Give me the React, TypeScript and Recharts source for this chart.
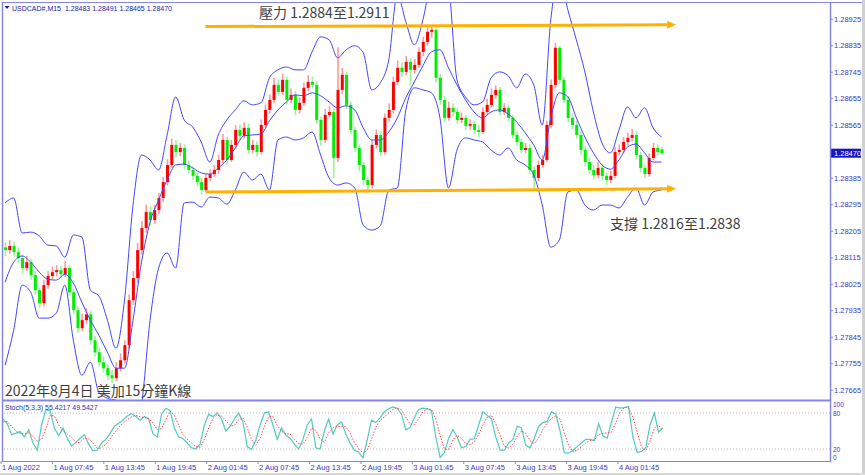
import React from 'react'
import { ComposedChart, Bar, Line, XAxis, YAxis, ReferenceLine, ReferenceDot } from 'recharts'

// USDCAD M15, 1 Aug 2022 -> 4 Aug 2022 (one candle per slot)
const open = [
  1.28150, 1.28141, 1.28155, 1.28134, 1.28114, 1.28080, 1.28100, 1.28056, 1.28005, 1.27961,
  1.28022, 1.28053, 1.28066, 1.28073, 1.28059, 1.28080, 1.27998, 1.27937, 1.27876, 1.27903,
  1.27923, 1.27835, 1.27794, 1.27760, 1.27740, 1.27716, 1.27706, 1.27740, 1.27767, 1.27818,
  1.27971, 1.28046, 1.28141, 1.28216, 1.28270, 1.28243, 1.28277, 1.28318, 1.28372, 1.28430,
  1.28498, 1.28474, 1.28488, 1.28430, 1.28413, 1.28393, 1.28372, 1.28345, 1.28386, 1.28399,
  1.28413, 1.28447, 1.28515, 1.28447, 1.28498, 1.28549, 1.28529, 1.28556, 1.28481, 1.28498,
  1.28474, 1.28566, 1.28617, 1.28651, 1.28702, 1.28678, 1.28719, 1.28651, 1.28668, 1.28617,
  1.28641, 1.28692, 1.28712, 1.28702, 1.28583, 1.28515, 1.28600, 1.28610, 1.28454, 1.28685,
  1.28736, 1.28634, 1.28549, 1.28488, 1.28430, 1.28379, 1.28362, 1.28498, 1.28532, 1.28474,
  1.28590, 1.28617, 1.28712, 1.28760, 1.28746, 1.28780, 1.28753, 1.28770, 1.28814, 1.28848,
  1.28882, 1.28889, 1.28726, 1.28651, 1.28590, 1.28624, 1.28610, 1.28583, 1.28590, 1.28563,
  1.28569, 1.28549, 1.28542, 1.28610, 1.28634, 1.28668, 1.28685, 1.28610, 1.28624, 1.28590,
  1.28532, 1.28508, 1.28481, 1.28488, 1.28413, 1.28386, 1.28430, 1.28447, 1.28566, 1.28702,
  1.28828, 1.28719, 1.28651, 1.28590, 1.28566, 1.28532, 1.28481, 1.28440, 1.28413, 1.28396,
  1.28420, 1.28393, 1.28379, 1.28393, 1.28474, 1.28481, 1.28508, 1.28522, 1.28532, 1.28464,
  1.28420, 1.28399, 1.28454, 1.28488, 1.28483,
]
const high = [
  1.28168, 1.28175, 1.28170, 1.28150, 1.28125, 1.28122, 1.28112, 1.28070, 1.28015, 1.28040,
  1.28070, 1.28085, 1.28090, 1.28088, 1.28105, 1.28092, 1.28010, 1.27950, 1.27925, 1.27945,
  1.27935, 1.27850, 1.27810, 1.27780, 1.27755, 1.27735, 1.27760, 1.27790, 1.27835, 1.27990,
  1.28070, 1.28165, 1.28240, 1.28295, 1.28290, 1.28295, 1.28335, 1.28390, 1.28450, 1.28520,
  1.28515, 1.28505, 1.28500, 1.28445, 1.28425, 1.28405, 1.28385, 1.28400, 1.28415, 1.28430,
  1.28465, 1.28535, 1.28525, 1.28515, 1.28565, 1.28568, 1.28575, 1.28570, 1.28515, 1.28510,
  1.28585, 1.28635, 1.28670, 1.28725, 1.28720, 1.28740, 1.28730, 1.28690, 1.28680, 1.28660,
  1.28710, 1.28735, 1.28730, 1.28715, 1.28595, 1.28620, 1.28630, 1.28620, 1.28830, 1.28760,
  1.28748, 1.28645, 1.28560, 1.28500, 1.28440, 1.28390, 1.28515, 1.28550, 1.28545, 1.28605,
  1.28640, 1.28730, 1.28785, 1.28778, 1.28800, 1.28792, 1.28790, 1.28830, 1.28865, 1.28900,
  1.28905, 1.28895, 1.28740, 1.28665, 1.28645, 1.28640, 1.28625, 1.28608, 1.28600, 1.28585,
  1.28580, 1.28565, 1.28625, 1.28655, 1.28690, 1.28700, 1.28695, 1.28640, 1.28635, 1.28600,
  1.28545, 1.28520, 1.28505, 1.28500, 1.28425, 1.28445, 1.28465, 1.28580, 1.28720, 1.28845,
  1.28835, 1.28730, 1.28665, 1.28605, 1.28580, 1.28545, 1.28495, 1.28455, 1.28430, 1.28440,
  1.28435, 1.28405, 1.28410, 1.28490, 1.28500, 1.28525, 1.28540, 1.28552, 1.28545, 1.28475,
  1.28432, 1.28470, 1.28505, 1.28500, 1.28491,
]
const low = [
  1.28120, 1.28128, 1.28118, 1.28098, 1.28062, 1.28070, 1.28040, 1.27990, 1.27945, 1.27950,
  1.28010, 1.28040, 1.28052, 1.28045, 1.28050, 1.27985, 1.27925, 1.27860, 1.27865, 1.27890,
  1.27820, 1.27780, 1.27745, 1.27725, 1.27700, 1.27690, 1.27695, 1.27728, 1.27755, 1.27805,
  1.27955, 1.28030, 1.28125, 1.28200, 1.28225, 1.28230, 1.28262, 1.28305, 1.28360, 1.28420,
  1.28455, 1.28460, 1.28415, 1.28400, 1.28380, 1.28358, 1.28330, 1.28338, 1.28375, 1.28390,
  1.28400, 1.28435, 1.28430, 1.28440, 1.28485, 1.28515, 1.28520, 1.28468, 1.28470, 1.28460,
  1.28465, 1.28555, 1.28605, 1.28640, 1.28665, 1.28668, 1.28635, 1.28640, 1.28600, 1.28605,
  1.28630, 1.28680, 1.28690, 1.28570, 1.28495, 1.28505, 1.28590, 1.28385, 1.28440, 1.28670,
  1.28620, 1.28535, 1.28475, 1.28410, 1.28360, 1.28335, 1.28350, 1.28485, 1.28460, 1.28465,
  1.28578, 1.28605, 1.28700, 1.28730, 1.28735, 1.28700, 1.28740, 1.28760, 1.28800, 1.28835,
  1.28862, 1.28710, 1.28635, 1.28575, 1.28580, 1.28595, 1.28570, 1.28572, 1.28548, 1.28550,
  1.28535, 1.28525, 1.28535, 1.28600, 1.28625, 1.28655, 1.28598, 1.28600, 1.28578, 1.28520,
  1.28495, 1.28470, 1.28470, 1.28400, 1.28345, 1.28375, 1.28420, 1.28440, 1.28555, 1.28690,
  1.28705, 1.28640, 1.28575, 1.28550, 1.28520, 1.28465, 1.28425, 1.28398, 1.28380, 1.28385,
  1.28378, 1.28362, 1.28368, 1.28385, 1.28462, 1.28470, 1.28495, 1.28510, 1.28450, 1.28405,
  1.28385, 1.28390, 1.28445, 1.28462, 1.28465,
]
const close = [
  1.28141, 1.28155, 1.28134, 1.28114, 1.28080, 1.28100, 1.28056, 1.28005, 1.27961, 1.28022,
  1.28053, 1.28066, 1.28073, 1.28059, 1.28080, 1.27998, 1.27937, 1.27876, 1.27903, 1.27923,
  1.27835, 1.27794, 1.27760, 1.27740, 1.27716, 1.27706, 1.27740, 1.27767, 1.27818, 1.27971,
  1.28046, 1.28141, 1.28216, 1.28270, 1.28243, 1.28277, 1.28318, 1.28372, 1.28430, 1.28498,
  1.28474, 1.28488, 1.28430, 1.28413, 1.28393, 1.28372, 1.28345, 1.28386, 1.28399, 1.28413,
  1.28447, 1.28515, 1.28447, 1.28498, 1.28549, 1.28529, 1.28556, 1.28481, 1.28498, 1.28474,
  1.28566, 1.28617, 1.28651, 1.28702, 1.28678, 1.28719, 1.28651, 1.28668, 1.28617, 1.28641,
  1.28692, 1.28712, 1.28702, 1.28583, 1.28515, 1.28600, 1.28610, 1.28454, 1.28685, 1.28736,
  1.28634, 1.28549, 1.28488, 1.28430, 1.28379, 1.28362, 1.28498, 1.28532, 1.28474, 1.28590,
  1.28617, 1.28712, 1.28760, 1.28746, 1.28780, 1.28753, 1.28770, 1.28814, 1.28848, 1.28882,
  1.28889, 1.28726, 1.28651, 1.28590, 1.28624, 1.28610, 1.28583, 1.28590, 1.28563, 1.28569,
  1.28549, 1.28542, 1.28610, 1.28634, 1.28668, 1.28685, 1.28610, 1.28624, 1.28590, 1.28532,
  1.28508, 1.28481, 1.28488, 1.28413, 1.28386, 1.28430, 1.28447, 1.28566, 1.28702, 1.28828,
  1.28719, 1.28651, 1.28590, 1.28566, 1.28532, 1.28481, 1.28440, 1.28413, 1.28396, 1.28420,
  1.28393, 1.28379, 1.28393, 1.28474, 1.28481, 1.28508, 1.28522, 1.28532, 1.28464, 1.28420,
  1.28399, 1.28454, 1.28488, 1.28474, 1.28470,
]

// Bollinger bands, read every second candle
const bbUpper = [
  1.28301, 1.28318, 1.28199, 1.28202, 1.28189, 1.28158, 1.28155, 1.28117, 1.28192, 1.28185,
  1.28005, 1.27985, 1.27903, 1.27808, 1.27971, 1.28294, 1.28464, 1.28447, 1.28413, 1.28532,
  1.28661, 1.28583, 1.28559, 1.28508, 1.28440, 1.28532, 1.28583, 1.28617, 1.28648, 1.28634,
  1.28641, 1.28726, 1.28753, 1.28763, 1.28753, 1.28753, 1.28814, 1.28865, 1.28855, 1.28794,
  1.28821, 1.28835, 1.28811, 1.28685, 1.28709, 1.28787, 1.29008, 1.28916, 1.28838, 1.28923,
  1.29059, 1.29110, 1.29042, 1.28719, 1.28661, 1.28634, 1.28644, 1.28726, 1.28746, 1.28733,
  1.28692, 1.28739, 1.28702, 1.28566, 1.28923, 1.29076, 1.28957, 1.28855, 1.28746, 1.28610,
  1.28505, 1.28471, 1.28549, 1.28627, 1.28590, 1.28624, 1.28556, 1.28525,
]
const bbMiddle = [
  1.28032, 1.28100, 1.28121, 1.28100, 1.28066, 1.28042, 1.28039, 1.28059, 1.28029, 1.27964,
  1.27903, 1.27852, 1.27794, 1.27740, 1.27740, 1.27903, 1.28100, 1.28236, 1.28311, 1.28379,
  1.28430, 1.28433, 1.28420, 1.28403, 1.28399, 1.28420, 1.28447, 1.28488, 1.28529, 1.28532,
  1.28535, 1.28580, 1.28617, 1.28644, 1.28668, 1.28665, 1.28675, 1.28665, 1.28644, 1.28624,
  1.28631, 1.28617, 1.28556, 1.28515, 1.28515, 1.28542, 1.28590, 1.28658, 1.28712, 1.28767,
  1.28814, 1.28821, 1.28760, 1.28702, 1.28651, 1.28610, 1.28590, 1.28610, 1.28617, 1.28603,
  1.28576, 1.28539, 1.28498, 1.28447, 1.28590, 1.28675, 1.28661, 1.28590, 1.28525, 1.28471,
  1.28430, 1.28416, 1.28447, 1.28491, 1.28501, 1.28471, 1.28440, 1.28440,
]
const bbLower = [
  1.27750, 1.27869, 1.28022, 1.27998, 1.27910, 1.27910, 1.27927, 1.28022, 1.27835, 1.27716,
  1.27760, 1.27658, 1.27638, 1.27631, 1.27597, 1.27495, 1.27614, 1.27903, 1.28080, 1.28131,
  1.28080, 1.28301, 1.28304, 1.28287, 1.28321, 1.28318, 1.28297, 1.28345, 1.28406, 1.28379,
  1.28399, 1.28345, 1.28515, 1.28525, 1.28515, 1.28522, 1.28542, 1.28464, 1.28386, 1.28362,
  1.28369, 1.28352, 1.28226, 1.28209, 1.28223, 1.28345, 1.28352, 1.28617, 1.28692, 1.28685,
  1.28675, 1.28590, 1.28352, 1.28481, 1.28522, 1.28515, 1.28508, 1.28481, 1.28464, 1.28488,
  1.28447, 1.28430, 1.28396, 1.28294, 1.28151, 1.28175, 1.28338, 1.28345, 1.28294, 1.28277,
  1.28294, 1.28294, 1.28284, 1.28321, 1.28352, 1.28294, 1.28338, 1.28345,
]

// Stochastic (5,3,3)
const stochK = [
  70, 62, 44, 46, 49, 40, 52, 30, 18, 60,
  85, 84, 55, 42, 55, 38, 25, 31, 38, 44,
  28, 17, 18, 30, 36, 46, 58, 63, 68, 75,
  79, 74, 68, 74, 70, 45, 40, 78, 88, 84,
  55, 40, 37, 30, 22, 20, 28, 60, 78, 74,
  80, 70, 50, 58, 70, 80, 65, 24, 19, 35,
  60, 80, 82, 60, 36, 55, 43, 38, 28, 20,
  36, 60, 70, 22, 20, 50, 70, 45, 60, 65,
  45, 30, 18, 15, 5, 35, 68, 64, 72, 82,
  87, 90, 88, 78, 52, 56, 72, 86, 88, 87,
  84, 40, 6, 14, 38, 52, 40, 22, 24, 36,
  37, 60, 82, 76, 70, 40, 18, 18, 30, 36,
  58, 55, 26, 22, 38, 58, 64, 66, 82, 78,
  50, 14, 13, 18, 24, 30, 36, 36, 34, 62,
  42, 38, 65, 90, 88, 89, 91, 40, 14, 16,
  22, 60, 80, 48, 55.42,
]
const stochD = [
  65, 66, 58, 50, 46, 45, 47, 41, 33, 36,
  54, 76, 75, 60, 51, 45, 39, 31, 31, 38,
  37, 30, 21, 22, 28, 37, 47, 56, 63, 69,
  74, 76, 74, 72, 71, 63, 52, 54, 69, 83,
  76, 60, 44, 36, 30, 24, 23, 36, 55, 71,
  77, 75, 67, 59, 59, 69, 72, 56, 36, 26,
  38, 58, 74, 74, 59, 50, 45, 45, 36, 29,
  28, 39, 55, 51, 37, 31, 47, 55, 58, 57,
  57, 47, 31, 21, 13, 18, 36, 56, 68, 73,
  80, 86, 88, 85, 73, 62, 60, 71, 82, 87,
  86, 70, 43, 20, 19, 35, 43, 38, 29, 27,
  32, 44, 60, 73, 76, 62, 43, 25, 22, 28,
  41, 50, 46, 34, 29, 39, 53, 63, 71, 75,
  70, 47, 26, 15, 18, 24, 30, 34, 35, 44,
  46, 47, 48, 64, 81, 89, 89, 73, 48, 23,
  17, 33, 55, 60, 49.54,
]

const timeTickIdx = [0, 12, 24, 36, 48, 60, 72, 84, 96, 108, 120, 132, 144]
const timeTickLabels = [
  '1 Aug 2022', '1 Aug 07:45', '1 Aug 13:45', '1 Aug 19:45', '2 Aug 01:45', '2 Aug 07:45',
  '2 Aug 13:45', '2 Aug 19:45', '3 Aug 01:45', '3 Aug 07:45', '3 Aug 13:45', '3 Aug 19:45', '4 Aug 01:45',
]
const priceLevels = [
  1.27665, 1.27755, 1.27845, 1.27935, 1.28025, 1.28115, 1.28205, 1.28295, 1.28385,
  1.28565, 1.28655, 1.28745, 1.28835, 1.28925,
]
const resistance = [{ i: 47, p: 1.289 }, { i: 156, p: 1.28906 }]
const support = [{ i: 47, p: 1.28338 }, { i: 156, p: 1.28349 }]

const SLOTS = 194
const lastClose = close[close.length - 1]

const rows = Array.from({ length: SLOTS }, (_, i) => {
  const r: any = { i }
  if (i < close.length) {
    r.o = open[i]
    r.h = high[i]
    r.l = low[i]
    r.c = close[i]
    r.range = [low[i], high[i]]
    r.k = stochK[i]
    r.d = stochD[i]
  }
  if (i % 2 === 0 && i / 2 < bbUpper.length) {
    r.bu = bbUpper[i / 2]
    r.bm = bbMiddle[i / 2]
    r.bl = bbLower[i / 2]
  }
  return r
})

const AXIS_BLUE = '#8686e4'
const LABEL_BLUE = '#3a3ac8'
const TICK_FONT = 'Liberation Sans, Arial, sans-serif'
const CJK_FONT = '"Noto Sans CJK TC", "Noto Sans CJK SC", sans-serif'

const Candle = (props: any) => {
  const { x, y, width, height, payload } = props
  if (!payload || payload.h == null || !isFinite(y) || !isFinite(height)) return <g />
  const top = Math.min(y, y + height)
  const h = Math.abs(height)
  const k = h / (payload.h - payload.l || 1)
  const bodyHi = Math.max(payload.o, payload.c)
  const bodyLo = Math.min(payload.o, payload.c)
  const bTop = top + (payload.h - bodyHi) * k
  const bH = Math.max(1, (bodyHi - bodyLo) * k)
  const cx = x + width / 2
  const up = payload.c >= payload.o
  return (
    <g>
      <line x1={cx} x2={cx} y1={top} y2={top + h} stroke={up ? '#ff9a9a' : '#9af59a'} strokeWidth={1.6} />
      <rect x={cx - 1.5} y={bTop} width={3} height={bH} fill={up ? '#ff0000' : '#00ee00'} />
    </g>
  )
}

const PriceTick = (props: any) => {
  const { x, y, payload } = props
  const v = payload.value
  if (v === lastClose) {
    return (
      <g>
        <rect x={x - 3} y={y - 4.5} width={30} height={9} fill="#1515c8" />
        <text x={x} y={y + 2.7} fontSize={7.5} fontFamily={TICK_FONT} fill="#ffffff">{v.toFixed(5)}</text>
      </g>
    )
  }
  return (
    <g>
      <line x1={x - 4} x2={x - 1} y1={y} y2={y} stroke={AXIS_BLUE} />
      <text x={x} y={y + 2.7} fontSize={7.5} fontFamily={TICK_FONT} fill={LABEL_BLUE}>{v.toFixed(5)}</text>
    </g>
  )
}

const StochTick = (props: any) => {
  const { x, y, payload } = props
  const v = payload.value
  const shift = v === 100 ? 6 : v === 80 ? 2.5 : v === 0 ? -1 : 2.5
  return (
    <text x={x - 1} y={y + shift} fontSize={6.5} fontFamily={TICK_FONT} fill={LABEL_BLUE}>{v}</text>
  )
}

const TimeTick = (props: any) => {
  const { x, y, payload } = props
  const n = timeTickIdx.indexOf(payload.value)
  if (n < 0) return <g />
  return (
    <g>
      <line x1={x - 2} x2={x - 2} y1={y - 3} y2={y} stroke={AXIS_BLUE} />
      <text x={x - 1} y={y + 6} fontSize={7.5} fontFamily={TICK_FONT} fill={LABEL_BLUE}>{timeTickLabels[n]}</text>
    </g>
  )
}

const Arrow = (props: any) => {
  const { cx, cy } = props
  return <polygon points={`${cx - 3},${cy - 4} ${cx + 6},${cy} ${cx - 3},${cy + 4}`} fill="#ffb000" />
}

export default function App() {
  return (
    <div style={{ position: 'absolute', left: 0, top: 0, width: 865, height: 475, background: '#fff', overflow: 'hidden' }}>
      <div style={{ position: 'absolute', left: 0, top: 0 }}>
        <ComposedChart width={865} height={400} data={rows} margin={{ top: 3, right: 0, bottom: 0, left: 3 }}>
          <XAxis dataKey="i" hide />
          <YAxis
            orientation="right"
            width={35}
            type="number"
            domain={[1.27632, 1.2898]}
            allowDataOverflow
            ticks={[...priceLevels, lastClose]}
            interval={0}
            tick={PriceTick}
            tickLine={false}
            axisLine={false}
            tickSize={2}
            tickMargin={2}
          />
          <Bar dataKey="range" shape={Candle} barSize={3} isAnimationActive={false} />
          <Line dataKey="bu" type="monotone" stroke="#4646ff" strokeWidth={1} dot={false} connectNulls isAnimationActive={false} />
          <Line dataKey="bm" type="monotone" stroke="#4646ff" strokeWidth={1} dot={false} connectNulls isAnimationActive={false} />
          <Line dataKey="bl" type="monotone" stroke="#4646ff" strokeWidth={1} dot={false} connectNulls isAnimationActive={false} />
          <ReferenceLine
            segment={[{ x: resistance[0].i, y: resistance[0].p }, { x: resistance[1].i, y: resistance[1].p }]}
            stroke="#ffb000"
            strokeWidth={3}
          />
          <ReferenceDot x={resistance[1].i} y={resistance[1].p} shape={Arrow} />
          <ReferenceLine
            segment={[{ x: support[0].i, y: support[0].p }, { x: support[1].i, y: support[1].p }]}
            stroke="#ffb000"
            strokeWidth={3}
          />
          <ReferenceDot x={support[1].i} y={support[1].p} shape={Arrow} />
        </ComposedChart>
      </div>
      <div style={{ position: 'absolute', left: 0, top: 401 }}>
        <ComposedChart width={865} height={74} data={rows} margin={{ top: 0, right: 0, bottom: 0, left: 3 }}>
          <XAxis dataKey="i" interval={0} tick={TimeTick} tickLine={false} axisLine={false} height={14} tickSize={2} tickMargin={1} />
          <YAxis
            orientation="right"
            width={35}
            type="number"
            domain={[0, 100]}
            ticks={[0, 20, 80, 100]}
            interval={0}
            tick={StochTick}
            tickLine={false}
            axisLine={false}
            tickSize={2}
            tickMargin={2}
          />
          <ReferenceLine y={80} stroke="#b8b8b8" strokeDasharray="1 2" />
          <ReferenceLine y={20} stroke="#b8b8b8" strokeDasharray="1 2" />
          <Line dataKey="k" type="linear" stroke="#52cbbf" strokeWidth={1.2} dot={false} isAnimationActive={false} />
          <Line dataKey="d" type="linear" stroke="#ff4a4a" strokeWidth={1} strokeDasharray="1.5 1.5" dot={false} isAnimationActive={false} />
        </ComposedChart>
      </div>
      <svg width={865} height={475} style={{ position: 'absolute', left: 0, top: 0, pointerEvents: 'none' }}>
        <line x1={2} x2={865} y1={2.5} y2={2.5} stroke={AXIS_BLUE} strokeWidth={1} />
        <line x1={2.5} x2={2.5} y1={2} y2={462} stroke={AXIS_BLUE} strokeWidth={1.5} />
        <line x1={830.5} x2={830.5} y1={2} y2={462} stroke={AXIS_BLUE} strokeWidth={1.5} />
        <line x1={2} x2={831} y1={400.5} y2={400.5} stroke={AXIS_BLUE} strokeWidth={2} />
        <line x1={2} x2={831} y1={461.5} y2={461.5} stroke={AXIS_BLUE} strokeWidth={1} />
        <line x1={863.5} x2={863.5} y1={0} y2={475} stroke="#d0d0d0" strokeWidth={3} />
        <line x1={0} x2={865} y1={474} y2={474} stroke="#d8d8d8" strokeWidth={2} />
        <polygon points="4.5,6 9.5,6 7,9" fill="#1c1ca0" />
        <text x={12} y={10.5} fontSize={7} fontFamily={TICK_FONT} fill="#1c1ca0" style={{ whiteSpace: 'pre' }}>
          USDCAD#,M15  1.28483 1.28491 1.28465 1.28470
        </text>
        <text x={5} y={409.5} fontSize={7} fontFamily={TICK_FONT} fill="#2f2fb8" style={{ whiteSpace: 'pre' }}>
          Stoch(5,3,3) 55.4217 49.5427
        </text>
        <text x={259} y={18} fontSize={14} fontFamily={CJK_FONT} fill="#404040">壓力 1.2884至1.2911</text>
        <text x={610} y={228.5} fontSize={14} fontFamily={CJK_FONT} fill="#404040">支撐 1.2816至1.2838</text>
        <text x={5} y={396} fontSize={14} fontFamily={CJK_FONT} fill="#404040">2022年8月4日 美加15分鐘K線</text>
      </svg>
    </div>
  )
}
